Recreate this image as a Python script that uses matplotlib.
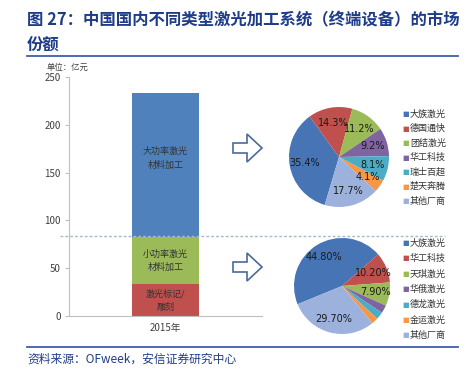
import matplotlib.pyplot as plt
import numpy as np
from matplotlib.patches import Polygon
from matplotlib.lines import Line2D

plt.rcParams['font.family'] = ['Noto Sans CJK SC', 'DejaVu Sans']

# stacked bar data (亿元)
bar_year = ["2015年"]
bar_parts = ["激光标记/\n雕刻", "小功率激光\n材料加工", "大功率激光\n材料加工"]
bar_values = [33, 50, 150]
bar_colors = ["#C0504D", "#9BBB59", "#4F81BD"]

# pie 1: 大功率激光材料加工
pie1_labels = ["大族激光", "德国通快", "团结激光", "华工科技", "瑞士百超", "楚天奔腾", "其他厂商"]
pie1_values = [35.4, 14.3, 11.2, 9.2, 8.1, 4.1, 17.7]

# pie 2: 小功率激光材料加工
pie2_labels = ["大族激光", "华工科技", "天琪激光", "华俄激光", "德龙激光", "金运激光", "其他厂商"]
pie2_values = [44.8, 10.2, 7.9, 2.7, 2.5, 2.2, 29.7]

pie_colors = ["#4674B4", "#C0504D", "#9BBB59", "#8064A2", "#4BACC6", "#F79646", "#9DB1DD"]

W, H = 466, 376
fig = plt.figure(figsize=(W / 100, H / 100), dpi=100)
navy = "#1F3C88"

# title
fig.text(27 / W, 1 - 20 / H, "图 27：中国国内不同类型激光加工系统（终端设备）的市场",
         fontsize=11.8, fontweight='bold', color=navy, va='center', ha='left')
fig.text(27 / W, 1 - 45 / H, "份额", fontsize=11.8, fontweight='bold', color=navy,
         va='center', ha='left')
fig.add_artist(Line2D([27 / W, 458 / W], [1 - 56 / H, 1 - 56 / H], color="#3F5FA8", lw=1.3))
fig.text(47 / W, 1 - 67 / H, "单位：亿元", fontsize=6, color="#404040", va='center')

# bar chart
ax = fig.add_axes([69 / W, 1 - 316 / H, 193 / W, 239 / H])
bottom = 0
for part, val, col in zip(bar_parts, bar_values, bar_colors):
    ax.bar(0, val, bottom=bottom, width=1, color=col)
    ax.text(0, bottom + val / 2 if val < 100 else bottom + 82, part, ha='center', va='center',
            fontsize=6.5, color="#333333", linespacing=1.6)
    bottom += val
ax.set_xlim(-1.46, 1.46)
ax.set_ylim(0, 250)
ax.set_yticks(range(0, 251, 50))
ax.set_xticks([0])
ax.set_xticklabels(bar_year)
ax.tick_params(axis='y', labelsize=7, colors="#BFBFBF", labelcolor="#404040", length=3, pad=3)
ax.tick_params(axis='x', labelsize=7, length=0, labelcolor="#404040", pad=5)
for s in ['top', 'right']:
    ax.spines[s].set_visible(False)
for s in ['left', 'bottom']:
    ax.spines[s].set_color("#BFBFBF")
ax.axhline(84, xmin=-9 / 193, xmax=376 / 193, clip_on=False, color="#A9B8C8",
           lw=1, ls=(0, (2, 1.5)))

# outline arrows
for cy in [148, 267]:
    pts = [(233, cy - 5), (247, cy - 5), (247, cy - 14), (262, cy),
           (247, cy + 14), (247, cy + 5), (233, cy + 5)]
    fig.add_artist(Polygon([(x / W, 1 - y / H) for x, y in pts], closed=True,
                           facecolor='white', edgecolor="#4A6A9C", lw=1.2,
                           transform=fig.transFigure))


def draw_pie(cx, cy, r, values, labels, start, leg_x, leg_y, leg_step, fmt):
    pax = fig.add_axes([(cx - r) / W, 1 - (cy + r) / H, 2 * r / W, 2 * r / H])
    wedges, texts = pax.pie(values, colors=pie_colors, startangle=start, counterclock=False,
                            wedgeprops=dict(edgecolor='none'))
    pax.set_xlim(-1, 1)
    pax.set_ylim(-1, 1)
    pax.set_aspect('auto')
    pax.axis('off')
    for w, v in zip(wedges, values):
        if v < 3:
            continue
        ang = np.deg2rad((w.theta1 + w.theta2) / 2)
        d = 0.7
        pax.text(d * np.cos(ang), d * np.sin(ang), fmt.format(v), ha='center', va='center',
                 fontsize=7, color="#1A1A1A", family=['DejaVu Sans'])
    for i, (lab, col) in enumerate(zip(labels, pie_colors)):
        y = leg_y + i * leg_step
        fig.text(leg_x / W, 1 - y / H, "■", color=col, fontsize=5, va='center',
                 family=['DejaVu Sans'])
        fig.text((leg_x + 8) / W, 1 - y / H, lab, color="#333333", fontsize=6.5, va='center')


draw_pie(339, 157, 50, pie1_values, pie1_labels, -106.6, 402, 114, 14.5, "{:.1f}%")
draw_pie(342, 286, 48, pie2_values, pie2_labels, -157.7, 402, 243, 15.4, "{:.2f}%")

# footer
fig.add_artist(Line2D([27 / W, 458 / W], [1 - 347 / H, 1 - 347 / H], color="#3F5FA8", lw=1.3))
fig.text(27 / W, 1 - 359 / H, "资料来源：OFweek，安信证券研究中心", fontsize=8.5,
         color=navy, style='italic', va='center')

fig.savefig("out.png", dpi=100)
